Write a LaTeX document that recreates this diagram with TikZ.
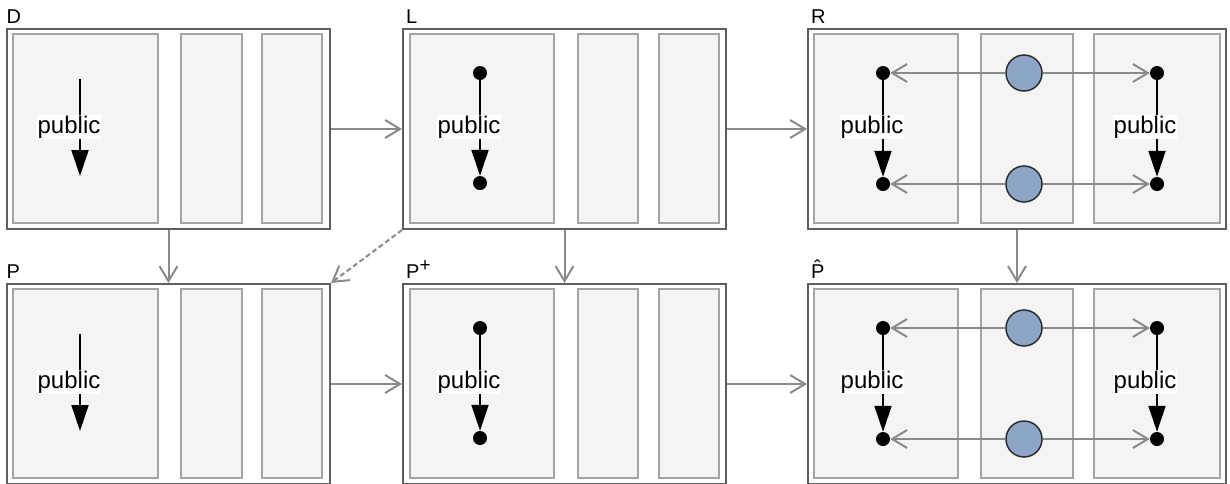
\documentclass[tikz,border=0pt]{standalone}
\usepackage{fontspec}
\setmainfont{Liberation Sans}
\usetikzlibrary{arrows.meta}
\definecolor{outerc}{HTML}{5E5E5E}
\definecolor{innerc}{HTML}{A3A3A3}
\definecolor{panelc}{HTML}{F4F4F4}
\definecolor{connc}{HTML}{8A8A8A}
\definecolor{circc}{HTML}{8DA6C8}
\definecolor{circd}{HTML}{2E2E2E}
\tikzset{
  outerbox/.style={draw=outerc, line width=2pt, fill=white, inner sep=0pt, minimum height=200},
  panel/.style={draw=innerc, line width=2pt, fill=panelc, inner sep=0pt, minimum height=189},
  boxlabel/.style={anchor=base west, inner sep=0pt, font=\fontsize{20}{20}\selectfont},
  publab/.style={fill=white, inner sep=1pt, font=\fontsize{24}{24}\selectfont},
  dot/.style={circle, fill=black, minimum size=14pt, inner sep=0pt},
  bluecirc/.style={circle, draw=circd, line width=1.5pt, fill=circc, minimum size=36pt, inner sep=0pt},
  blackarrow/.style={line width=2pt, -{Triangle[length=26pt,width=17pt]}},
  conn/.style={draw=connc, line width=2pt, -{Straight Barb[length=15pt,width=18pt,line width=2pt]}},
}
\newcommand\myrow[5]{%
\begin{scope}[shift={(0,#1)}]
  % box A
  \node[outerbox, minimum width=323] (#2A) at (168.5,129) {};
  \node[panel, minimum width=145] (#2Aa) at (85.5,128.5) {};
  \node[panel, minimum width=61] (#2Ab) at (211.5,128.5) {};
  \node[panel, minimum width=60] (#2Ac) at (292,128.5) {};
  \node[boxlabel] (#2Alab) at (6.5,23) {#3};
  \coordinate (#2As) at (80,79);
  \coordinate (#2Ae) at (80,176);
  \draw[blackarrow] (#2As) -- (#2Ae);
  \node[publab] (#2Apub) at (69,127) {public};
  % box B
  \node[outerbox, minimum width=323] (#2B) at (564.5,129) {};
  \node[panel, minimum width=144] (#2Ba) at (482,128.5) {};
  \node[panel, minimum width=60] (#2Bb) at (608,128.5) {};
  \node[panel, minimum width=60] (#2Bc) at (689,128.5) {};
  \node[boxlabel] (#2Blab) at (406,23) {#4};
  \node[dot] (#2Bd1) at (480,73) {};
  \node[dot] (#2Bd2) at (480,183) {};
  \draw[blackarrow] (#2Bd1) -- (#2Bd2);
  \node[publab] (#2Bpub) at (469,127) {public};
  % box C
  \node[outerbox, minimum width=418] (#2C) at (1017,129) {};
  \node[panel, minimum width=144] (#2Ca) at (886,128.5) {};
  \node[panel, minimum width=92] (#2Cb) at (1027,128.5) {};
  \node[panel, minimum width=126] (#2Cc) at (1157,128.5) {};
  \node[boxlabel] (#2Clab) at (811,23) {#5};
  \node[bluecirc] (#2Cc1) at (1024,73) {};
  \node[bluecirc] (#2Cc2) at (1024,184) {};
  \node[dot] (#2Cd1) at (883,73) {};
  \node[dot] (#2Cd2) at (883,184) {};
  \node[dot] (#2Cd3) at (1157,73) {};
  \node[dot] (#2Cd4) at (1157,184) {};
  \draw[conn] (#2Cc1) -- (#2Cd1);
  \draw[conn] (#2Cc1) -- (#2Cd3);
  \draw[conn] (#2Cc2) -- (#2Cd2);
  \draw[conn] (#2Cc2) -- (#2Cd4);
  \draw[blackarrow] (#2Cd1) -- (#2Cd2);
  \draw[blackarrow] (#2Cd3) -- (#2Cd4);
  \node[publab] (#2Cpub1) at (872,127) {public};
  \node[publab] (#2Cpub2) at (1145,127) {public};
\end{scope}}
\begin{document}
\begin{tikzpicture}[x=1pt, y=-1pt]
  \useasboundingbox (0,0) rectangle (1230,483);
  \myrow{0}{top}{D}{L}{R}
  \myrow{255}{bot}{P}{P\raisebox{7pt}{\fontsize{19}{19}\selectfont +}}{\^{P}}
  \draw[conn] (topA) -- (topB);
  \draw[conn] (topB) -- (topC);
  \draw[conn] (botA) -- (botB);
  \draw[conn] (botB) -- (botC);
  \draw[conn] (topA.south) -- (botA.north);
  \draw[conn] (topB.south) -- (botB.north);
  \draw[conn] (topC.south) -- (botC.north);
  \draw[conn, dash pattern=on 5pt off 3pt] (topB.south west) -- (botA.north east);
\end{tikzpicture}
\end{document}
